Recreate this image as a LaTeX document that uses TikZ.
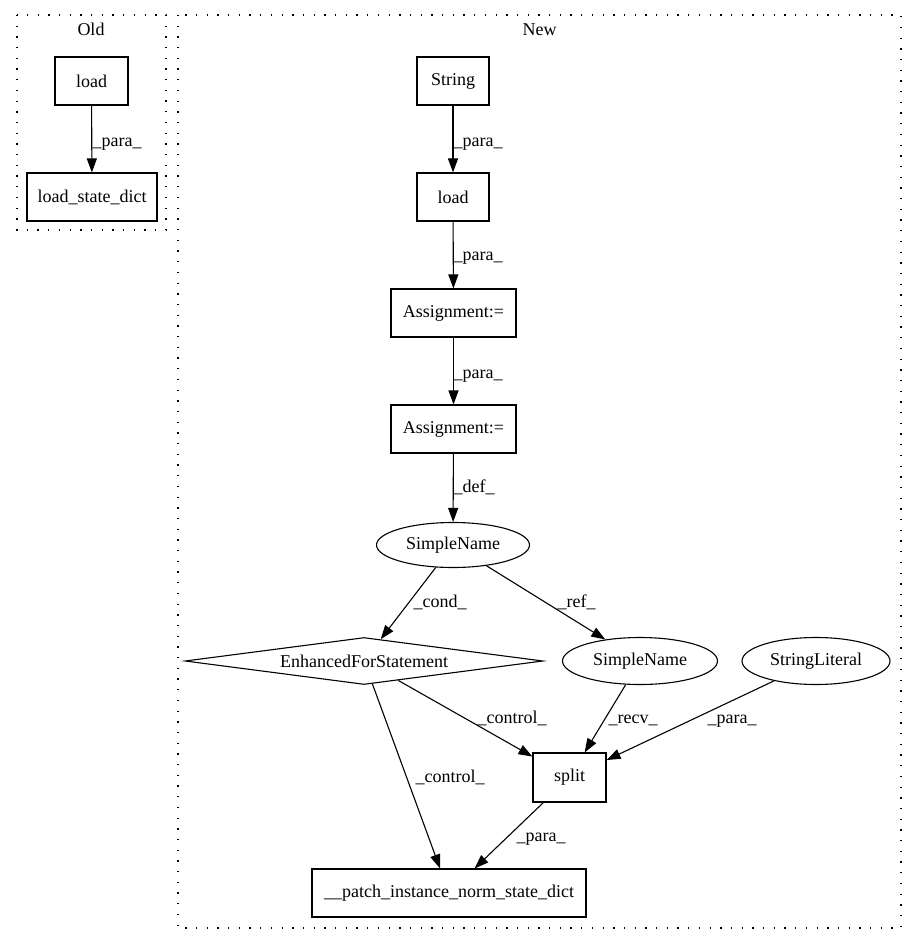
\documentclass[tikz,border=0pt]{standalone}
\usepackage{fontspec}
\setmainfont{Liberation Serif}
\usetikzlibrary{arrows.meta,shapes.geometric}

\tikzset{
  box/.style={draw, line width=1.1pt, inner sep=0pt, minimum height=48pt},
  oval/.style={draw, ellipse, line width=1.1pt, inner sep=0pt, minimum height=47pt},
  cond/.style={draw, diamond, aspect=7.62, line width=1.1pt, inner sep=0pt, minimum width=358pt, minimum height=47pt},
  edge/.style={line width=1.1pt, -{Triangle[length=14pt,width=10pt]}},
  elabel/.style={anchor=base west, inner sep=0pt},
  cluster/.style={line width=1.1pt, dash pattern=on 1.3pt off 9.4pt},
}

\begin{document}
\begin{tikzpicture}[x=1pt, y=-1pt, font=\fontsize{18}{20}\selectfont]
	\useasboundingbox (0,0) rectangle (917,944);
	
	% Clusters
	\draw[cluster] (17,15) rectangle (166,230);
	\node[anchor=base] (oldlbl) at (91,36) {Old};
	\draw[cluster] (178,15) rectangle (901,928);
	\node[anchor=base] (newlbl) at (539.5,36) {New};
	
	% Old side
	\node[box, minimum width=73pt] (oldload) at (91.5,81) {load};
	\node[box, minimum width=130pt] (statedict) at (92,197) {load\_state\_dict};
	
	% New side
	\node[box, minimum width=72pt] (str) at (453,81) {String};
	\node[box, minimum width=72pt] (newload) at (453,197) {load};
	\node[box, minimum width=125pt] (assigna) at (453.5,313) {Assignment:=};
	\node[box, minimum width=125pt] (assignb) at (453.5,429) {Assignment:=};
	\node[oval, minimum width=153pt, minimum height=45pt] (sname) at (453,545) {SimpleName};
	\node[cond] (enh) at (364,661) {EnhancedForStatement};
	\node[oval, minimum width=155pt] (snameb) at (640,661) {SimpleName};
	\node[oval, minimum width=148pt] (strlit) at (816,661) {StringLiteral};
	\node[box, minimum width=73pt, minimum height=49pt] (split) at (569.5,777.5) {split};
	\node[box, minimum width=274pt] (patch) at (449,893) {\_\_patch\_instance\_norm\_state\_dict};
	
	% Edges
	\draw[edge] (oldload) -- (statedict) node[elabel] at (92,147) {\_para\_};
	\draw[edge] (str) -- (newload) node[elabel] at (453,147) {\_para\_};
	\draw[edge] (newload) -- (assigna) node[elabel] at (453,260) {\_para\_};
	\draw[edge] (assigna) -- (assignb) node[elabel] at (453,378) {\_para\_};
	\draw[edge] (assignb) -- (sname) node[elabel] at (453,492) {\_def\_};
	\draw[edge] (sname) -- (enh) node[elabel] at (413,607) {\_cond\_};
	\draw[edge] (sname) -- (snameb) node[elabel] at (557,607) {\_ref\_};
	\draw[edge] (enh) -- (split) node[elabel] at (477,723) {\_control\_};
	\draw[edge] (enh) -- (patch) node[elabel] at (415,782) {\_control\_};
	\draw[edge] (snameb) -- (split) node[elabel] at (608,723) {\_recv\_};
	\draw[edge] (strlit) -- (split) node[elabel] at (707,723) {\_para\_};
	\draw[edge] (split) -- (patch) node[elabel] at (516,841) {\_para\_};
\end{tikzpicture}
\end{document}
